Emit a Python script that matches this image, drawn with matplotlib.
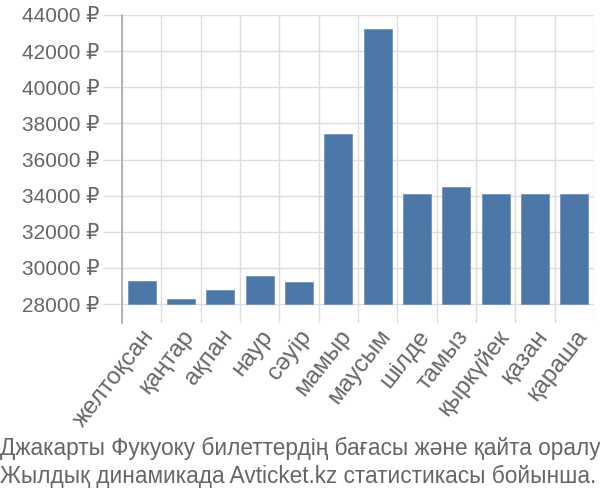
import matplotlib.pyplot as plt
import numpy as np

plt.rcParams['font.family'] = ['Liberation Sans', 'DejaVu Sans']

months = ['желтоқсан', 'қаңтар', 'ақпан', 'наур', 'сәуір', 'мамыр',
          'маусым', 'шілде', 'тамыз', 'қыркүйек', 'қазан', 'қараша']
prices = [29300, 28300, 28750, 29550, 29200, 37420,
          43230, 34080, 34500, 34080, 34080, 34080]
base = 28000
yticks = list(range(28000, 44001, 2000))

fig = plt.figure(figsize=(6, 5), dpi=100)
ax = fig.add_axes([122 / 600, 1 - 323 / 500, 472 / 600, 308 / 500])

x = np.arange(len(months))
heights = [p - base for p in prices]
ax.bar(x, heights, bottom=base, width=0.72, color='#4c78a8',
       edgecolor='#6f93c0', linewidth=0.6, zorder=3)

ax.set_xlim(-0.5, len(months) - 0.5)
ax.set_ylim(26950, 44000)

ax.set_yticks(yticks)
ax.set_yticklabels([f'{v} ₽' for v in yticks])
ax.set_xticks(x)
ax.set_xticklabels(months, rotation=52, ha='right', rotation_mode='anchor')
ax.set_xticks(np.arange(-0.5, len(months)), minor=True)

ax.grid(axis='y', color='#dddddd', linewidth=1, zorder=0)
ax.grid(axis='x', which='minor', color='#dddddd', linewidth=1, zorder=0)

ax.tick_params(axis='y', length=14, color='#dddddd', width=1,
               labelsize=15, labelcolor='#666666', pad=2)
ax.tick_params(axis='x', which='major', length=0, labelsize=17.5,
               labelcolor='#666666', pad=2)
ax.tick_params(axis='x', which='minor', length=0)

for s in ['top', 'right', 'bottom']:
    ax.spines[s].set_visible(False)
ax.spines['left'].set_color('#aaaaaa')
ax.spines['left'].set_linewidth(1.2)

fig.text(0.0, 1 - 448 / 500, 'Джакарты Фукуоку билеттердің бағасы және қайта оралу',
         fontsize=16.3, color='#666666', va='center', ha='left')
fig.text(0.0, 1 - 476 / 500, 'Жылдық динамикада Avticket.kz статистикасы бойынша.',
         fontsize=16.3, color='#666666', va='center', ha='left')

fig.savefig('out.png', dpi=100)
